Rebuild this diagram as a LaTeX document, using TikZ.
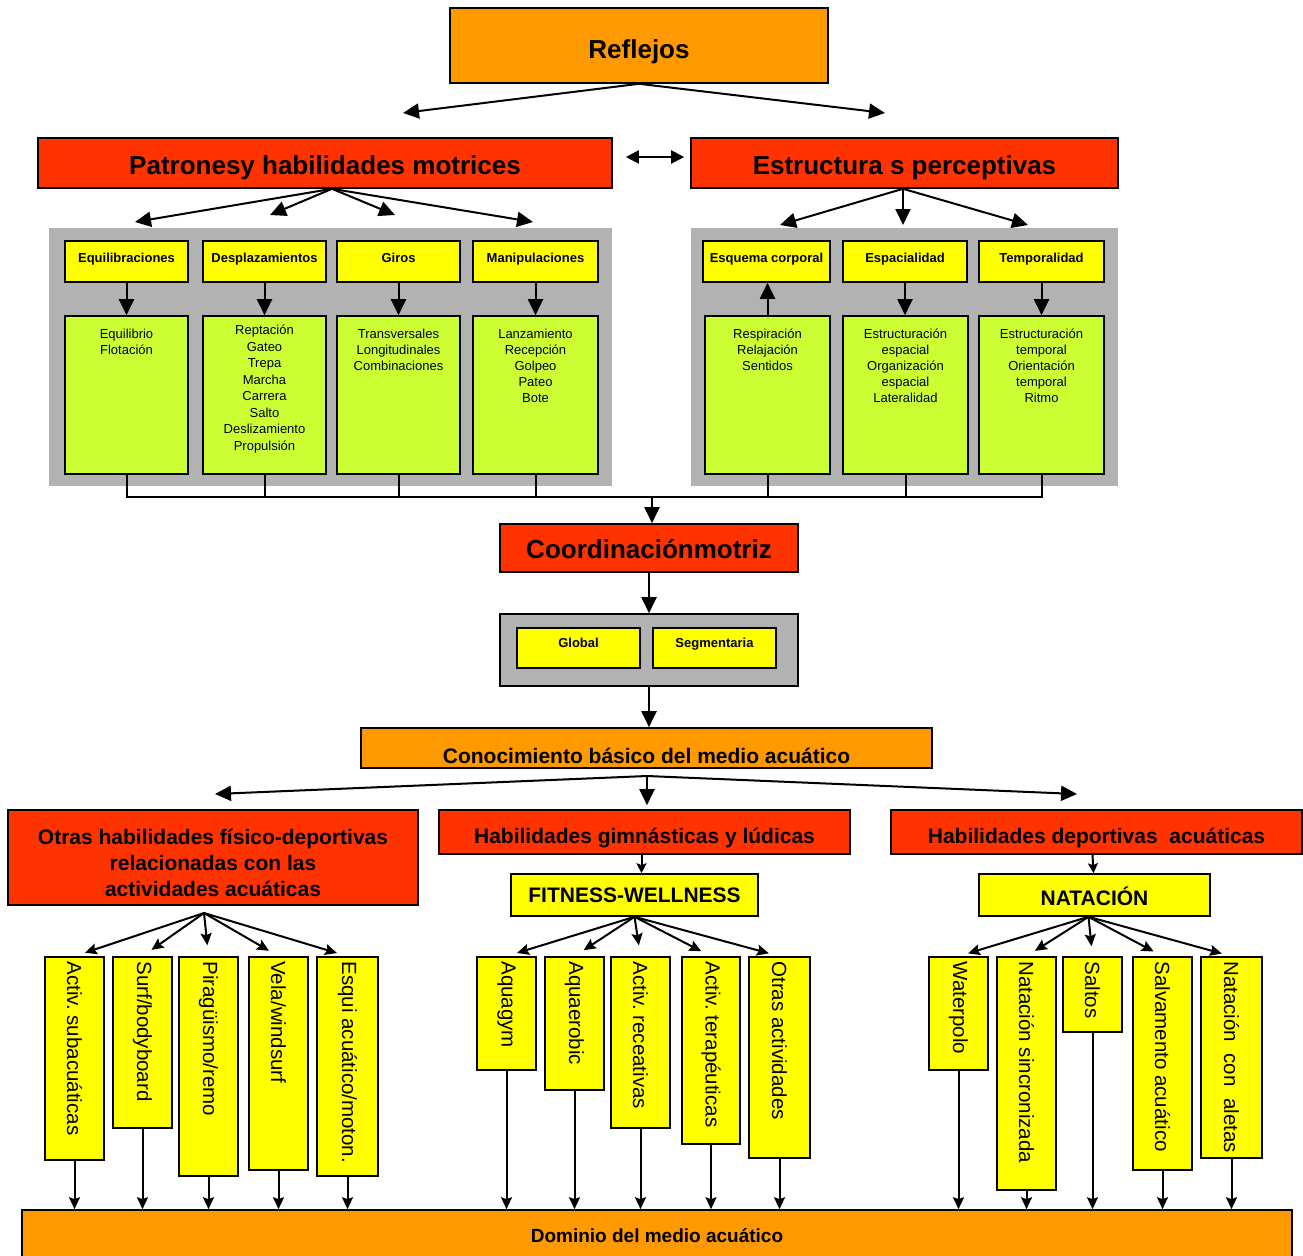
\documentclass[tikz,border=0pt]{standalone}
\usepackage{fontspec}
\setmainfont{Liberation Sans}
\usetikzlibrary{arrows.meta}
\definecolor{naranja}{HTML}{FF9900}
\definecolor{rojo}{HTML}{FF3300}
\definecolor{amarillo}{HTML}{FFFF00}
\definecolor{verde}{HTML}{CCFF33}
\definecolor{gris}{HTML}{B2B2B2}
\frenchspacing
\begin{document}
\begin{tikzpicture}[x=1pt,y=-1pt,
    caja/.style={draw,line width=1.6pt,inner sep=0pt,align=center},
    grande/.style={font=\fontsize{26}{31}\selectfont\bfseries},
    medio/.style={font=\fontsize{21}{26}\selectfont\bfseries},
    cabecera/.style={caja,fill=amarillo,minimum height=41pt,text height=10pt,text depth=9pt,font=\fontsize{13}{15}\selectfont\bfseries},
    verdecaja/.style={caja,fill=verde,minimum height=158pt},
    lista/.style={inner sep=0pt,align=center,anchor=north,font=\fontsize{13}{16}\selectfont},
    vcaja/.style={caja,fill=amarillo},
    vtexto/.style={inner sep=0pt,rotate=-90,anchor=west,font=\fontsize{20.5}{24}\selectfont},
    flecha/.style={line width=2pt,-{Triangle[length=16pt,width=15pt]}},
    flechita/.style={line width=2pt,-{Stealth[length=12pt,width=11pt,inset=2pt]}},
    linea/.style={line width=2pt}]
    \useasboundingbox (0,0) rectangle (1303,1255);
    % parte de arriba
    \node[caja,grande,fill=naranja,minimum width=378pt,minimum height=75pt,text height=32pt,text depth=6pt] (refl) at (639,45.5) {Reflejos};
    \node[caja,grande,fill=rojo,minimum width=574pt,minimum height=50pt,text height=28pt,text depth=6pt] (patr) at (325,163) {Patronesy habilidades motrices};
    \node[caja,grande,fill=rojo,minimum width=427pt,minimum height=50pt,text height=28pt,text depth=6pt] (estr) at (904.5,163) {Estructura s perceptivas};
    \coordinate (rL) at (403,113);
    \coordinate (rR) at (885,113);
    \draw[flecha] (refl.south) -- (rL);
    \draw[flecha] (refl.south) -- (rR);
    \draw[linea,{Triangle[length=13pt,width=13pt]}-{Triangle[length=13pt,width=13pt]}] ([xshift=13pt,yshift=6pt]patr.east) -- ([xshift=-6pt,yshift=6pt]estr.west);
    % paneles grises
    \fill[gris] (49,228) rectangle (612,486);
    \fill[gris] (691,228) rectangle (1118,486);
    \node[cabecera,minimum width=123pt] (h1) at (126.5,261.5) {Equilibraciones};
    \node[cabecera,minimum width=123pt] (h2) at (264.5,261.5) {Desplazamientos};
    \node[cabecera,minimum width=123pt] (h3) at (398.5,261.5) {Giros};
    \node[cabecera,minimum width=125pt] (h4) at (535.5,261.5) {Manipulaciones};
    \node[cabecera,minimum width=127pt] (h5) at (766.5,261.5) {Esquema corporal};
    \node[cabecera,minimum width=124pt] (h6) at (905,261.5) {Espacialidad};
    \node[cabecera,minimum width=125pt] (h7) at (1041.5,261.5) {Temporalidad};
    \node[verdecaja,minimum width=123pt] (g1) at (126.5,395) {};
    \node[verdecaja,minimum width=123pt] (g2) at (264.5,395) {};
    \node[verdecaja,minimum width=123pt] (g3) at (398.5,395) {};
    \node[verdecaja,minimum width=125pt] (g4) at (535.5,395) {};
    \node[verdecaja,minimum width=125pt] (g5) at (767.5,395) {};
    \node[verdecaja,minimum width=125pt] (g6) at (905.5,395) {};
    \node[verdecaja,minimum width=125pt] (g7) at (1041.5,395) {};
    \node[lista] (l1) at ([yshift=-14pt]g1.north) {Equilibrio\\Flotación};
    \node[lista,font=\fontsize{13}{16.5}\selectfont] (l2) at ([yshift=-10pt]g2.north) {Reptación\\Gateo\\Trepa\\Marcha\\Carrera\\Salto\\Deslizamiento\\Propulsión};
    \node[lista] (l3) at ([yshift=-14pt]g3.north) {Transversales\\Longitudinales\\Combinaciones};
    \node[lista] (l4) at ([yshift=-14pt]g4.north) {Lanzamiento\\Recepción\\Golpeo\\Pateo\\Bote};
    \node[lista] (l5) at ([yshift=-14pt]g5.north) {Respiración\\Relajación\\Sentidos};
    \node[lista] (l6) at ([yshift=-14pt]g6.north) {Estructuración\\espacial\\Organización\\espacial\\Lateralidad};
    \node[lista] (l7) at ([yshift=-14pt]g7.north) {Estructuración\\temporal\\Orientación\\temporal\\Ritmo};
    \coordinate (pa1) at (135,222);
    \coordinate (pa2) at (270,215);
    \coordinate (pa3) at (395,215);
    \coordinate (pa4) at (533,222);
    \draw[flecha] ([xshift=7pt]patr.south) -- (pa1);
    \draw[flecha] ([xshift=7pt]patr.south) -- (pa2);
    \draw[flecha] ([xshift=7pt]patr.south) -- (pa3);
    \draw[flecha] ([xshift=7pt]patr.south) -- (pa4);
    \coordinate (ea1) at (780,225);
    \coordinate (ea2) at (903,225);
    \coordinate (ea3) at (1028,225);
    \draw[flecha] ([xshift=-1.5pt]estr.south) -- (ea1);
    \draw[flecha] ([xshift=-1.5pt]estr.south) -- (ea2);
    \draw[flecha] ([xshift=-1.5pt]estr.south) -- (ea3);
    \draw[flecha] (h1.south) -- (g1.north);
    \draw[flecha] (h2.south) -- (g2.north);
    \draw[flecha] (h3.south) -- (g3.north);
    \draw[flecha] (h4.south) -- (g4.north);
    \draw[flecha] (g5.north) -- (g5.north |- h5.south);
    \draw[flecha] (h6.south) -- (h6.south |- g6.north);
    \draw[flecha] (h7.south) -- (g7.north);
    % coordinacion
    \coordinate (bus) at (652,497);
    \node[caja,grande,fill=rojo,minimum width=298pt,minimum height=48pt,text height=26pt,text depth=5pt] (coord) at (649,548) {Coordinaciónmotriz};
    \draw[linea] (g1.south) |- (bus) -| (g7.south);
    \draw[linea] (g2.south) -- (g2.south |- bus);
    \draw[linea] (g3.south) -- (g3.south |- bus);
    \draw[linea] (g4.south) -- (g4.south |- bus);
    \draw[linea] (g5.south) -- (g5.south |- bus);
    \draw[linea] (g6.south) -- (g6.south |- bus);
    \draw[flecha] (bus) -- (bus |- coord.north);
    \node[caja,fill=gris,minimum width=298pt,minimum height=72pt] (panel) at (649,650) {};
    \node[caja,fill=amarillo,minimum width=123pt,minimum height=40pt,text height=10pt,text depth=11pt,font=\fontsize{13}{15}\selectfont\bfseries] (glob) at (578.5,648) {Global};
    \node[caja,fill=amarillo,minimum width=123pt,minimum height=40pt,text height=10pt,text depth=11pt,font=\fontsize{13}{15}\selectfont\bfseries] (segm) at (714.5,648) {Segmentaria};
    \draw[flecha] (coord.south) -- (panel.north);
    \node[caja,fill=naranja,minimum width=571pt,minimum height=40pt] (conoc) at (646.5,748) {};
    \node[medio] (conoct) at ([yshift=-8pt]conoc.center) {Conocimiento básico del medio acuático};
    \draw[flecha] (panel.south) -- (panel.south |- conoc.north);
    % tres ramas
    \node[caja,fill=rojo,minimum width=410pt,minimum height=95pt] (otras) at (213,857.5) {};
    \node[medio,align=center] (otrast) at ([yshift=-5pt]otras.center) {Otras habilidades físico-deportivas\\relacionadas con las\\actividades acuáticas};
    \node[caja,medio,fill=rojo,minimum width=411pt,minimum height=44pt,text height=28pt,text depth=5pt] (gimn) at (644.5,832) {Habilidades gimnásticas y lúdicas};
    \node[caja,medio,fill=rojo,minimum width=411pt,minimum height=44pt,text height=28pt,text depth=5pt] (dep) at (1096.5,832) {Habilidades deportivas\ \ acuáticas};
    \coordinate (cf) at (647,776);
    \coordinate (cL) at (215,794);
    \coordinate (cR) at (1077,794);
    \draw[flecha] (cf) -- (cL);
    \draw[flecha] (cf) -- (cR);
    \draw[flecha,shorten >=4pt] (cf) -- (cf |- gimn.north);
    \node[caja,medio,fill=amarillo,minimum width=247pt,minimum height=42pt] (fit) at (634.5,895) {FITNESS-WELLNESS};
    \node[caja,medio,fill=amarillo,minimum width=231pt,minimum height=42pt,text height=26pt,text depth=5pt] (nat) at (1094.5,895) {NATACIÓN};
    \draw[line width=2pt,-{Stealth[length=10pt,width=10pt,inset=2pt]}] ([xshift=-3pt]gimn.south) -- ([xshift=7pt]fit.north);
    \draw[line width=2pt,-{Stealth[length=10pt,width=10pt,inset=2pt]}] ([xshift=-4pt]dep.south) -- ([xshift=-1pt]nat.north);
    % dominio
    \node[caja,fill=naranja,minimum width=1270pt,minimum height=52pt,font=\fontsize{19}{23}\selectfont\bfseries] (dom) at (657,1236) {Dominio del medio acuático};
    % columnas de actividades
    \node[vcaja,minimum width=59pt,minimum height=203pt] (o1) at (74.5,1058.5) {};
    \node[vcaja,minimum width=59pt,minimum height=171pt] (o2) at (142.5,1042.5) {};
    \node[vcaja,minimum width=59pt,minimum height=219pt] (o3) at (208.5,1066.5) {};
    \node[vcaja,minimum width=59pt,minimum height=213pt] (o4) at (278.5,1063.5) {};
    \node[vcaja,minimum width=61pt,minimum height=219pt] (o5) at (347.5,1066.5) {};
    \node[vtexto] (o1t) at ([yshift=-5pt]o1.north) {Activ. subacuáticas};
    \node[vtexto] (o2t) at ([yshift=-5pt]o2.north) {Surf/bodyboard};
    \node[vtexto] (o3t) at ([yshift=-5pt]o3.north) {Piragüismo/remo};
    \node[vtexto] (o4t) at ([yshift=-5pt]o4.north) {Vela/windsurf};
    \node[vtexto] (o5t) at ([yshift=-5pt]o5.north) {Esqui acuático/moton.};
    \node[vcaja,minimum width=59pt,minimum height=113pt] (f1) at (506.5,1013.5) {};
    \node[vcaja,minimum width=59pt,minimum height=133pt] (f2) at (574.5,1023.5) {};
    \node[vcaja,minimum width=59pt,minimum height=171pt] (f3) at (640.5,1042.5) {};
    \node[vcaja,minimum width=58pt,minimum height=187pt] (f4) at (711,1050.5) {};
    \node[vcaja,minimum width=61pt,minimum height=201pt] (f5) at (779.5,1057.5) {};
    \node[vtexto] (f1t) at ([yshift=-5pt]f1.north) {Aquagym};
    \node[vtexto] (f2t) at ([yshift=-5pt]f2.north) {Aquaerobic};
    \node[vtexto] (f3t) at ([yshift=-5pt]f3.north) {Activ. receativas};
    \node[vtexto] (f4t) at ([yshift=-5pt]f4.north) {Activ. terapéuticas};
    \node[vtexto] (f5t) at ([yshift=-5pt]f5.north) {Otras actividades};
    \node[vcaja,minimum width=59pt,minimum height=113pt] (n1) at (958.5,1013.5) {};
    \node[vcaja,minimum width=59pt,minimum height=233pt] (n2) at (1026.5,1073.5) {};
    \node[vcaja,minimum width=59pt,minimum height=75pt] (n3) at (1092.5,994.5) {};
    \node[vcaja,minimum width=59pt,minimum height=213pt] (n4) at (1162.5,1063.5) {};
    \node[vcaja,minimum width=61pt,minimum height=201pt] (n5) at (1231.5,1057.5) {};
    \node[vtexto] (n1t) at ([yshift=-5pt]n1.north) {Waterpolo};
    \node[vtexto] (n2t) at ([yshift=-5pt]n2.north) {Natación sincronizada};
    \node[vtexto] (n3t) at ([yshift=-5pt]n3.north) {Saltos};
    \node[vtexto] (n4t) at ([yshift=-5pt]n4.north) {Salvamento acuático};
    \node[vtexto] (n5t) at ([yshift=-5pt]n5.north) {Natación\ \ con\ \ aletas};
    % abanicos
    \coordinate (of) at (204,913);
    \draw[flechita,shorten >=11pt] (of) -- (o1.north);
    \draw[flechita,shorten >=11pt] (of) -- (o2.north);
    \draw[flechita,shorten >=11pt] (of) -- (o3.north);
    \draw[flechita,shorten >=11pt] (of) -- (o4.north);
    \draw[flechita,shorten >=11pt] (of) -- (o5.north);
    \draw[flechita,shorten >=11pt] (fit.south) -- (f1.north);
    \draw[flechita,shorten >=11pt] (fit.south) -- (f2.north);
    \draw[flechita,shorten >=11pt] (fit.south) -- (f3.north);
    \draw[flechita,shorten >=11pt] (fit.south) -- (f4.north);
    \draw[flechita,shorten >=11pt] (fit.south) -- (f5.north);
    \draw[flechita,shorten >=10pt] ([xshift=-6pt]nat.south) -- (n1.north);
    \draw[flechita,shorten >=10pt] ([xshift=-6pt]nat.south) -- (n2.north);
    \draw[flechita,shorten >=10pt] ([xshift=-6pt]nat.south) -- (n3.north);
    \draw[flechita,shorten >=10pt] ([xshift=-6pt]nat.south) -- (n4.north);
    \draw[flechita,shorten >=10pt] ([xshift=-6pt]nat.south) -- (n5.north);
    % hacia el dominio
    \draw[flechita] (o1.south) -- (o1.south |- dom.north);
    \draw[flechita] (o2.south) -- (o2.south |- dom.north);
    \draw[flechita] (o3.south) -- (o3.south |- dom.north);
    \draw[flechita] (o4.south) -- (o4.south |- dom.north);
    \draw[flechita] (o5.south) -- (o5.south |- dom.north);
    \draw[flechita] (f1.south) -- (f1.south |- dom.north);
    \draw[flechita] (f2.south) -- (f2.south |- dom.north);
    \draw[flechita] (f3.south) -- (f3.south |- dom.north);
    \draw[flechita] (f4.south) -- (f4.south |- dom.north);
    \draw[flechita] (f5.south) -- (f5.south |- dom.north);
    \draw[flechita] (n1.south) -- (n1.south |- dom.north);
    \draw[flechita] (n2.south) -- (n2.south |- dom.north);
    \draw[flechita] (n3.south) -- (n3.south |- dom.north);
    \draw[flechita] (n4.south) -- (n4.south |- dom.north);
    \draw[flechita] (n5.south) -- (n5.south |- dom.north);
\end{tikzpicture}
\end{document}
